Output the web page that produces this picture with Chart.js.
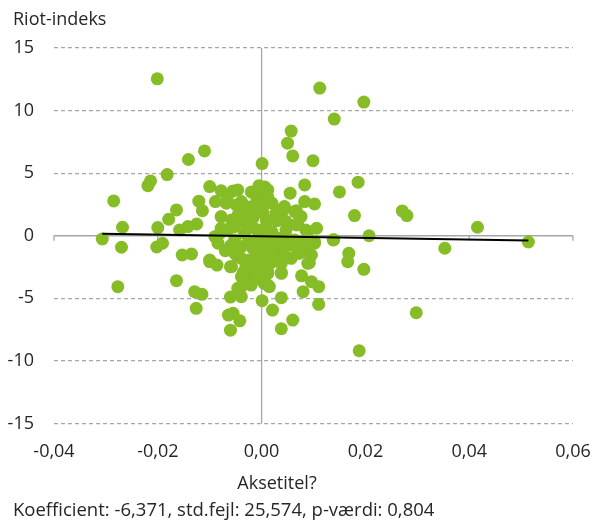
<!DOCTYPE html>
<html lang="da">
<head>
  <meta charset="UTF-8">
  <title>Riot-indeks</title>
  <script src="https://cdn.jsdelivr.net/npm/chart.js"></script>
  <style>
    body { margin: 0; background: #fff; }
    .wrap { position: relative; width: 595px; height: 522px; }
    .lbl {
      position: absolute;
      font-family: 'Open Sans', 'Noto Sans', sans-serif;
      font-size: 18px;
      line-height: 22px;
      color: #262626;
      white-space: nowrap;
    }
    #yTitle { left: 13px; top: 7px; }
    #xTitle { left: 177px; top: 471px; width: 200px; text-align: center; }
    #note { left: 13px; top: 498px; font-size: 18.5px; }
  </style>
</head>
<body>
<div class="wrap">
  <canvas id="riotChart"></canvas>
  <div class="lbl" id="yTitle">Riot-indeks</div>
  <div class="lbl" id="xTitle">Aksetitel?</div>
  <div class="lbl" id="note">Koefficient: -6,371, std.fejl: 25,574, p-værdi: 0,804</div>
</div>
<script>
  // scatter points
  var pointX = [
    -0.0307, -0.0285, -0.0268, -0.0270, -0.0277, -0.0219, -0.0214, -0.0201, -0.0182, -0.0141,
    -0.0110, -0.0200, -0.0202, -0.0191, -0.0164, -0.0179, -0.0158, -0.0142, -0.0125, -0.0121,
    -0.0114, -0.0100, -0.0078, -0.0089, -0.0068, -0.0055, -0.0046, 0.0001, 0.0057, 0.0050,
    0.0060, 0.0055, 0.0028, 0.0041, -0.0153, -0.0135, -0.0100, 0.0112, 0.0197, 0.0140,
    0.0099, 0.0083, 0.0186, 0.0150, 0.0179, 0.0271, 0.0280, 0.0416, 0.0207, 0.0139,
    0.0353, 0.0514, 0.0168, 0.0102, 0.0083, 0.0067, 0.0041, 0.0106, 0.0085, 0.0069,
    0.0047, 0.0047, -0.0164, -0.0129, -0.0115, -0.0126, -0.0100, -0.0086, -0.0060, -0.0064,
    -0.0055, -0.0042, -0.0060, -0.0060, -0.0039, 0.0001, 0.0021, 0.0038, 0.0038, 0.0060,
    0.0015, 0.0038, 0.0298, 0.0188, 0.0197, 0.0166, 0.0110, 0.0110, 0.0096, 0.0077,
    0.0080, 0.0092, 0.0092, 0.0073, 0.0044, 0.0000, -0.0066, -0.0039, -0.0010, -0.0078,
    -0.0058, -0.0033, -0.0017, 0.0003, 0.0009, -0.0090, -0.0065, -0.0033, -0.0007, -0.0052,
    0.0012, 0.0076, 0.0009, 0.0067, 0.0089, 0.0031, 0.0064, 0.0012, -0.0052, -0.0039,
    -0.0017, 0.0000, -0.0023, -0.0007, 0.0009, -0.0039, -0.0026, -0.0046, 0.0000, 0.0009,
    0.0019, 0.0044, 0.0070, 0.0102, 0.0138, 0.0031, 0.0057, 0.0012, -0.0020, 0.0008,
    0.0005, -0.0015, 0.0020, -0.0030, -0.0010, 0.0020, 0.0030, -0.0045, -0.0025, 0.0015,
    0.0035, 0.0050, -0.0048, -0.0030, 0.0020, 0.0030, -0.0015, 0.0005, -0.0035, -0.0060,
    -0.0080, -0.0070, -0.0005, 0.0006, -0.0010, 0.0002, -0.0008, 0.0012, -0.0049, -0.0030,
    -0.0039, -0.0020, -0.0078, -0.0052, -0.0026, 0.0000, 0.0044, 0.0064, -0.0084, -0.0046,
    -0.0039, -0.0058, -0.0020, 0.0006, 0.0031, 0.0057, 0.0083, 0.0102, -0.0007, 0.0019,
    0.0044, 0.0070, 0.0096, 0.0012, 0.0038, 0.0089, -0.0007, 0.0012, -0.0033, -0.0013,
    -0.0039, -0.0020, 0.0012, 0.0038
  ];
  var pointY = [
    -0.26, 2.78, 0.68, -0.92, -4.07, 4.00, 4.38, 12.54, 4.89, 6.09,
    6.78, 0.65, -0.90, -0.60, 2.06, 1.32, 0.46, 0.73, 0.94, 2.76,
    2.00, 3.93, 3.60, 2.73, 2.60, 3.58, 3.66, 5.77, 8.36, 7.40,
    6.38, 3.40, 1.80, 2.12, -1.54, -1.46, -1.94, 11.80, 10.68, 9.32,
    6.00, 4.06, 4.28, 3.50, 1.61, 1.98, 1.61, 0.68, 0.00, -0.31,
    -1.00, -0.50, -1.40, 2.54, 2.73, 2.00, 2.00, 0.60, 0.46, 1.00,
    1.13, 0.46, -3.59, -4.47, -4.68, -5.80, -2.07, -2.34, -2.47, -6.34,
    -6.20, -6.80, -7.54, -4.90, -4.87, -5.19, -5.94, -4.95, -7.43, -6.74,
    -4.07, -2.95, -6.15, -9.19, -2.68, -2.07, -5.48, -4.07, -3.67, -3.20,
    -4.47, -2.15, -1.40, -1.40, -1.67, 3.80, 3.13, 2.73, 3.13, 1.53,
    1.26, 2.06, 1.40, 1.80, 0.73, -0.07, 0.46, 0.20, -0.20, -0.34,
    3.66, 1.53, 1.26, 0.86, 0.33, -0.34, -0.34, -0.20, -1.40, -0.87,
    -1.00, -0.60, -1.94, -2.47, -1.67, -3.27, -3.80, -4.20, -3.27, -2.74,
    -0.87, -0.87, -0.74, -0.60, -0.34, -1.67, -1.80, -3.00, 3.50, 3.20,
    2.50, 2.40, 2.60, 1.00, 0.50, 0.30, 1.20, 1.70, -0.40, -0.60,
    -0.20, -0.20, -1.60, -2.40, -2.10, -1.20, -3.00, -3.80, -2.90, -0.80,
    0.20, -1.20, 4.00, 3.90, 2.00, 2.86, 2.62, 3.10, 2.46, 2.33,
    1.53, 1.80, 0.60, 0.73, 0.60, 0.46, 2.33, 1.93, -0.60, -1.00,
    -1.80, -2.47, -0.47, -0.74, -0.60, -0.74, -0.60, -0.47, -1.54, -1.40,
    -1.54, -1.40, -1.54, -2.07, -2.20, -2.20, -2.60, -2.87, -3.40, -3.40,
    -4.07, -3.94, -3.94, -3.00
  ];

  // regression line end points
  var trendX = [-0.0307, 0.0514];
  var trendY = [0.15, -0.37];

  var xTicks = [-0.04, -0.02, 0, 0.02, 0.04, 0.06];
  var yTicks = [-15, -10, -5, 0, 5, 10, 15];

  var fontFamily = "'Open Sans', 'Noto Sans', sans-serif";
  var textColor = '#262626';

  var scatterData = pointX.map(function (x, i) { return { x: x, y: pointY[i] }; });
  var trendData = trendX.map(function (x, i) { return { x: x, y: trendY[i] }; });

  function fmt(v) {
    return v.toFixed(2).replace('.', ',').replace('-0,00', '0,00');
  }

  // solid axis lines through zero, drawn behind the points
  var zeroAxes = {
    id: 'zeroAxes',
    beforeDatasetsDraw: function (chart) {
      var ctx = chart.ctx;
      var xs = chart.scales.x, ys = chart.scales.y;
      var area = chart.chartArea;
      var y0 = ys.getPixelForValue(0);
      var x0 = xs.getPixelForValue(0);
      ctx.save();
      ctx.strokeStyle = '#a6a6a6';
      ctx.lineWidth = 1.3;
      ctx.beginPath();
      ctx.moveTo(area.left, y0);
      ctx.lineTo(area.right, y0);
      xTicks.forEach(function (t) {
        var px = xs.getPixelForValue(t);
        ctx.moveTo(px, y0);
        ctx.lineTo(px, y0 + 5);
      });
      ctx.moveTo(x0, area.top);
      ctx.lineTo(x0, area.bottom);
      ctx.stroke();
      ctx.restore();
    }
  };

  new Chart(document.getElementById('riotChart'), {
    type: 'scatter',
    data: {
      datasets: [
        {
          type: 'line',
          data: trendData,
          borderColor: '#000',
          borderWidth: 2,
          pointRadius: 0,
          fill: false,
          order: 0
        },
        {
          data: scatterData,
          backgroundColor: '#86bc25',
          borderWidth: 0,
          pointRadius: 6.5,
          pointHoverRadius: 6.5,
          order: 1
        }
      ]
    },
    options: {
      responsive: true,
      maintainAspectRatio: false,
      animation: false,
      layout: { padding: { left: 0, right: 22, top: 48, bottom: 59.5 } },
      plugins: {
        legend: { display: false },
        tooltip: { enabled: false }
      },
      scales: {
        x: {
          type: 'linear',
          min: -0.04,
          max: 0.06,
          afterBuildTicks: function (scale) {
            scale.ticks = xTicks.map(function (v) { return { value: v }; });
          },
          afterFit: function (scale) {
            scale.height = 39;
            scale.paddingLeft = 0;
            scale.paddingRight = 0;
          },
          grid: { display: false, drawTicks: false },
          border: { display: false },
          ticks: {
            padding: 17.5,
            maxRotation: 0,
            minRotation: 0,
            color: textColor,
            font: { family: fontFamily, size: 18 },
            callback: function (v) { return fmt(v); }
          }
        },
        y: {
          type: 'linear',
          min: -15,
          max: 15,
          afterBuildTicks: function (scale) {
            scale.ticks = yTicks.map(function (v) { return { value: v }; });
          },
          afterFit: function (scale) {
            scale.width = 54;
            scale.paddingTop = 0;
            scale.paddingBottom = 0;
          },
          grid: {
            drawTicks: false,
            lineWidth: 1.3,
            color: function (c) { return c.tick && c.tick.value === 0 ? 'rgba(0,0,0,0)' : '#a6a6a6'; }
          },
          border: { display: false, dash: [4, 3] },
          ticks: {
            padding: 20,
            color: textColor,
            font: { family: fontFamily, size: 18 },
            callback: function (v) { return String(v); }
          }
        }
      }
    },
    plugins: [zeroAxes]
  });
</script>
</body>
</html>
